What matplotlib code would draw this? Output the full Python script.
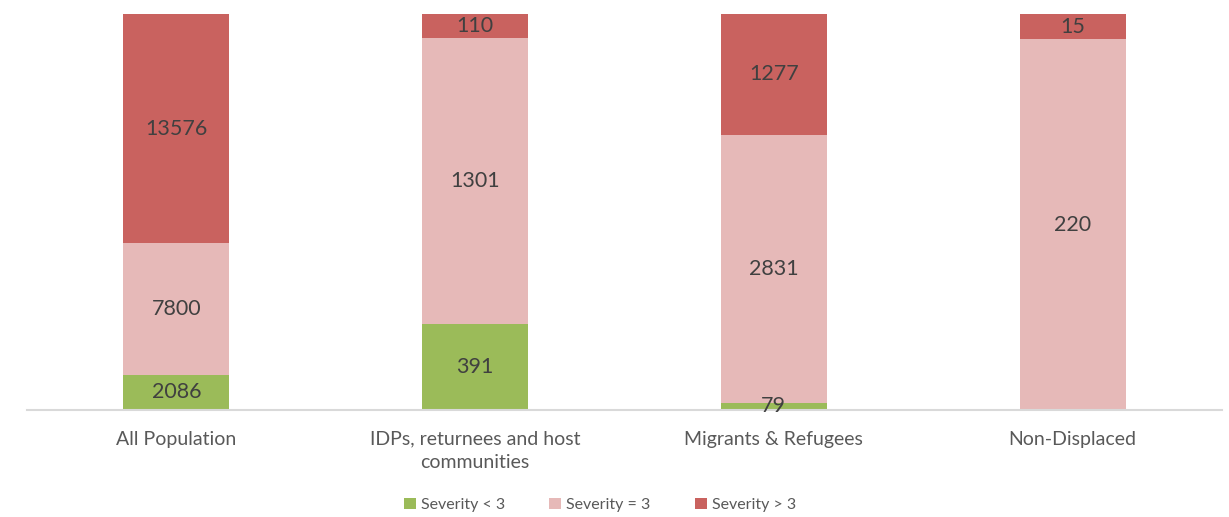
import numpy as np
import matplotlib.pyplot as plt

plt.rcParams['font.family'] = ['Lato', 'DejaVu Sans']

categories = ['All Population', 'IDPs, returnees and host\ncommunities',
              'Migrants & Refugees', 'Non-Displaced']
sev_lt3 = [2086, 391, 79, 0]
sev_eq3 = [7800, 1301, 2831, 220]
sev_gt3 = [13576, 110, 1277, 15]
series_names = ['Severity < 3', 'Severity = 3', 'Severity > 3']
colors = ['#9BBB59', '#E6B9B8', '#C9625F']

data = np.array([sev_lt3, sev_eq3, sev_gt3], dtype=float)
totals = data.sum(axis=0)
shares = data / totals

fig = plt.figure(figsize=(12.29, 5.17), dpi=100)
ax = fig.add_axes([27 / 1229, 1 - 410 / 517, 1195 / 1229, 396 / 517])

x = np.arange(len(categories))
bottom = np.zeros(len(categories))
for i in range(3):
    bars = ax.bar(x, shares[i], 0.355, bottom=bottom, color=colors[i],
                  label=series_names[i], zorder=2)
    for j in range(len(categories)):
        if data[i, j] > 0:
            ax.text(x[j], bottom[j] + shares[i, j] / 2, '%d' % data[i, j],
                    ha='center', va='center', fontsize=15.5, color='#404040',
                    zorder=3)
    bottom += shares[i]

ax.set_xlim(-0.5, 3.5)
ax.set_ylim(0, 1)
ax.set_yticks([])
for s in ['top', 'right', 'left']:
    ax.spines[s].set_visible(False)
ax.spines['bottom'].set_color('#D9D9D9')
ax.spines['bottom'].set_linewidth(1.5)
ax.set_xticks(x)
ax.set_xticklabels(categories, fontsize=14, color='#595959', linespacing=1.45)
ax.tick_params(axis='x', length=0, pad=15)

fig.legend(loc='center', bbox_to_anchor=(600 / 1229, 1 - 505 / 517), ncol=3,
           frameon=False, fontsize=11.5, handlelength=0.75, handleheight=0.75,
           handletextpad=0.3, columnspacing=2.8, labelcolor='#595959')

fig.savefig('out.png', dpi=100)
